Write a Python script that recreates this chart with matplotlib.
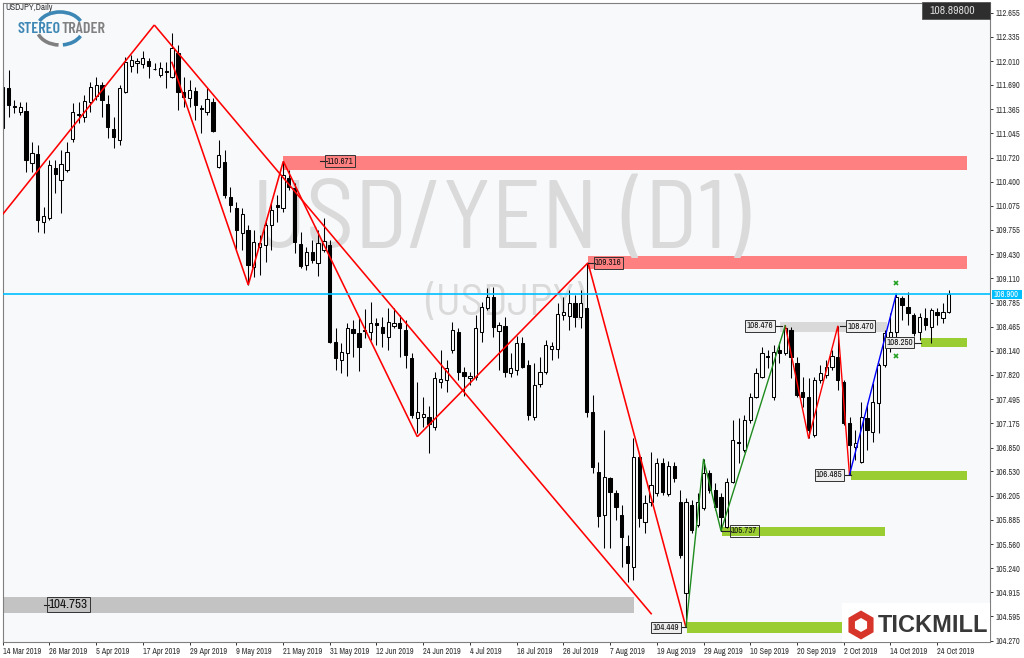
import matplotlib
matplotlib.use('Agg')
import matplotlib.pyplot as plt
from matplotlib import font_manager as fm
from matplotlib.patches import Rectangle, Arc, Polygon
from matplotlib.transforms import Affine2D
import numpy as np

W, H = 1024, 658
names = sorted({f.name for f in fm.fontManager.ttflist})
if 'Archivo Narrow' in names:
    UI, K = 'Archivo Narrow', 1.0
elif 'Liberation Sans' in names:
    UI, K = 'Liberation Sans', 0.82
else:
    UI, K = 'DejaVu Sans', 0.72
COND = 'Barlow Condensed' if 'Barlow Condensed' in names else UI
SEMI = 'Barlow Semi Condensed' if 'Barlow Semi Condensed' in names else UI
BOLD = 'Liberation Sans' if 'Liberation Sans' in names else 'DejaVu Sans'

# ---------------- data ----------------
date_labels = ['14 Mar 2019', '26 Mar 2019', '5 Apr 2019', '17 Apr 2019', '29 Apr 2019',
               '9 May 2019', '21 May 2019', '31 May 2019', '12 Jun 2019', '24 Jun 2019',
               '4 Jul 2019', '16 Jul 2019', '26 Jul 2019', '7 Aug 2019', '19 Aug 2019',
               '29 Aug 2019', '10 Sep 2019', '20 Sep 2019', '2 Oct 2019', '14 Oct 2019',
               '24 Oct 2019']
bars_per_label = 8

price_ticks = [112.655, 112.335, 112.010, 111.690, 111.365, 111.045, 110.720, 110.400,
               110.075, 109.755, 109.430, 109.110, 108.785, 108.465, 108.140, 107.820,
               107.495, 107.175, 106.850, 106.530, 106.205, 105.885, 105.560, 105.240,
               104.915, 104.595, 104.270]

ohlc = [
 (111.112, 111.824, 111.089, 111.667), (111.650, 111.890, 111.263, 111.423),
 (111.410, 111.490, 111.316, 111.396), (111.330, 111.463, 111.290, 111.396),
 (111.347, 111.467, 110.533, 110.689), (110.649, 110.933, 110.533, 110.782),
 (110.769, 110.889, 109.732, 109.888), (109.865, 110.065, 109.710, 109.941),
 (109.914, 110.689, 109.888, 110.622), (110.582, 110.689, 110.248, 110.502),
 (110.422, 110.822, 109.981, 110.635), (110.555, 110.933, 110.533, 110.800),
 (110.969, 111.450, 110.933, 111.334), (111.290, 111.467, 111.183, 111.303),
 (111.267, 111.557, 111.200, 111.477), (111.467, 111.734, 111.334, 111.667),
 (111.543, 111.801, 111.490, 111.690), (111.690, 111.734, 111.267, 111.490),
 (111.436, 111.557, 110.978, 111.125), (111.099, 111.267, 110.845, 110.992),
 (110.956, 111.690, 110.889, 111.646), (111.601, 112.068, 111.579, 112.001),
 (111.944, 112.091, 111.868, 112.024), (111.980, 112.047, 111.846, 112.011),
 (111.966, 112.144, 111.913, 112.054), (112.011, 112.047, 111.780, 111.948),
 (111.910, 111.980, 111.890, 111.897), (111.824, 112.001, 111.801, 111.921),
 (111.877, 112.001, 111.646, 111.864), (111.801, 112.380, 111.783, 112.180),
 (112.113, 112.224, 111.356, 111.601), (111.601, 111.801, 111.400, 111.534),
 (111.512, 111.757, 111.400, 111.623), (111.614, 111.667, 111.223, 111.423),
 (111.376, 111.423, 111.049, 111.363), (111.334, 111.646, 111.290, 111.499),
 (111.467, 111.512, 111.067, 111.080), (110.599, 110.956, 110.578, 110.755),
 (110.666, 110.822, 110.177, 110.222), (110.199, 110.328, 109.994, 110.088),
 (110.048, 110.128, 109.487, 109.754), (109.714, 110.048, 109.487, 109.968),
 (109.754, 109.821, 109.020, 109.287), (109.264, 109.754, 109.130, 109.598),
 (109.531, 109.687, 109.153, 109.581), (109.554, 109.865, 109.331, 109.821),
 (109.821, 110.115, 109.487, 110.021), (110.088, 110.222, 109.865, 110.057),
 (110.044, 110.671, 109.998, 110.489), (110.449, 110.555, 110.288, 110.332),
 (110.315, 110.382, 109.447, 109.598), (109.567, 109.731, 109.247, 109.273),
 (109.287, 109.531, 109.220, 109.464), (109.464, 109.621, 109.313, 109.354),
 (109.317, 109.754, 109.140, 109.581), (109.487, 109.914, 109.460, 109.611),
 (109.554, 109.621, 108.245, 108.263), (108.263, 108.446, 107.885, 108.041),
 (108.018, 108.245, 107.845, 108.129), (108.108, 108.513, 107.805, 108.450),
 (108.432, 108.552, 108.062, 108.383), (108.379, 108.579, 107.875, 108.192),
 (108.425, 108.699, 108.312, 108.412), (108.396, 108.797, 108.285, 108.512),
 (108.506, 108.579, 108.219, 108.492), (108.463, 108.596, 108.196, 108.379),
 (108.329, 108.713, 108.152, 108.530), (108.472, 108.713, 108.446, 108.516),
 (108.512, 108.619, 108.062, 108.446), (108.419, 108.552, 107.912, 108.085),
 (108.045, 108.112, 107.244, 107.284), (107.240, 107.729, 107.044, 107.328),
 (107.261, 107.528, 107.128, 107.297), (107.258, 107.404, 106.777, 107.164),
 (107.128, 107.858, 107.084, 107.778), (107.729, 108.152, 107.645, 107.765),
 (107.751, 108.018, 107.591, 107.912), (108.152, 108.530, 108.108, 108.419),
 (108.396, 108.446, 107.751, 107.862), (107.858, 107.929, 107.538, 107.811),
 (107.774, 107.858, 107.685, 107.809), (107.785, 108.619, 107.751, 108.452),
 (108.396, 108.797, 108.263, 108.730), (108.709, 108.976, 108.686, 108.864),
 (108.864, 108.997, 108.329, 108.455), (108.409, 108.530, 107.885, 108.486),
 (108.472, 108.596, 107.795, 107.862), (107.851, 108.112, 107.795, 107.908),
 (107.885, 108.339, 107.818, 108.239), (108.241, 108.322, 107.908, 107.929),
 (107.952, 108.018, 107.217, 107.284), (107.261, 107.978, 107.217, 107.685),
 (107.698, 108.062, 107.662, 107.862), (107.858, 108.285, 107.832, 108.219),
 (108.161, 108.263, 108.018, 108.201), (108.159, 108.779, 108.045, 108.626),
 (108.619, 108.864, 108.552, 108.663), (108.606, 108.953, 108.419, 108.775),
 (108.775, 108.886, 108.463, 108.596), (108.596, 108.953, 108.442, 108.775),
 (108.709, 109.316, 107.261, 107.328), (107.328, 107.551, 106.506, 106.594),
 (106.527, 106.661, 105.793, 105.936), (105.949, 107.084, 105.504, 106.460),
 (106.447, 106.460, 105.504, 106.260), (106.247, 106.283, 105.882, 106.060),
 (105.949, 106.083, 105.259, 105.659), (105.535, 105.682, 105.059, 105.304),
 (105.259, 106.973, 105.081, 106.727), (106.727, 106.777, 105.793, 105.905),
 (105.859, 106.216, 105.705, 106.105), (106.122, 106.790, 106.069, 106.350),
 (106.239, 106.710, 106.203, 106.639), (106.643, 106.710, 106.216, 106.260),
 (106.229, 106.670, 106.203, 106.603), (106.603, 106.657, 106.390, 106.439),
 (106.127, 106.283, 105.375, 105.415), (104.908, 106.176, 104.449, 106.122),
 (106.083, 106.149, 105.709, 105.749), (105.816, 106.243, 105.789, 106.127),
 (106.038, 106.693, 106.016, 106.506), (106.506, 106.550, 106.243, 106.283),
 (106.283, 106.376, 106.016, 106.060), (106.194, 106.243, 105.737, 105.926),
 (105.793, 106.443, 105.775, 106.394), (106.394, 107.217, 106.376, 106.950),
 (106.924, 107.244, 106.643, 106.904), (106.817, 107.284, 106.794, 107.217),
 (107.217, 107.578, 107.177, 107.528), (107.528, 107.912, 107.511, 107.845),
 (107.795, 108.196, 107.778, 108.112), (108.072, 108.152, 107.912, 108.058),
 (107.528, 108.219, 107.484, 108.129), (108.152, 108.263, 107.978, 108.108),
 (108.108, 108.476, 108.085, 108.442), (108.419, 108.463, 107.774, 108.062),
 (107.974, 108.062, 107.528, 107.551), (107.595, 107.795, 107.395, 107.528),
 (107.528, 107.774, 106.973, 107.084), (107.017, 107.795, 106.994, 107.751),
 (107.751, 107.952, 107.711, 107.841), (107.818, 108.018, 107.778, 107.929),
 (107.929, 108.152, 107.885, 108.072), (108.062, 108.470, 107.618, 107.751),
 (107.729, 107.751, 107.151, 107.173), (107.173, 107.261, 106.485, 106.884),
 (106.861, 107.084, 106.683, 106.910), (106.661, 107.462, 106.639, 107.261),
 (107.244, 107.444, 106.817, 107.084), (107.061, 107.711, 106.928, 107.462),
 (107.444, 107.978, 107.044, 107.952), (107.952, 108.419, 107.925, 108.375),
 (108.329, 108.642, 108.125, 108.396), (108.396, 108.900, 108.219, 108.863),
 (108.846, 108.873, 108.552, 108.753), (108.730, 108.930, 108.486, 108.642),
 (108.619, 108.646, 108.339, 108.375), (108.396, 108.646, 108.285, 108.596),
 (108.579, 108.713, 108.419, 108.486), (108.463, 108.713, 108.250, 108.686),
 (108.663, 108.713, 108.486, 108.619), (108.575, 108.779, 108.512, 108.663),
 (108.663, 108.953, 108.642, 108.898),
]
opens = [r[0] for r in ohlc]
highs = [r[1] for r in ohlc]
lows = [r[2] for r in ohlc]
closes = [r[3] for r in ohlc]

current_price = 108.898
hline_price = 108.900

# zones: bar start, bar end, bottom price, top price, colour
zone_start = [48.0, 100.2, 133.1, 117.1, 123.2, 145.2, 157.2, -0.1]
zone_end = [165.2, 165.2, 151.4, 143.9, 151.1, 165.1, 165.1, 108.1]
zone_bottom = [110.555, 109.229, 108.396, 104.369, 105.672, 106.416, 108.192, 104.645]
zone_top = [110.746, 109.411, 108.522, 104.524, 105.793, 106.540, 108.312, 104.858]
zone_color = ['#FF8080', '#FF8080', '#D9D9D9', '#9ACD32', '#9ACD32', '#9ACD32', '#9ACD32', '#C3C3C3']

# price labels
label_level = [110.671, 109.316, 108.476, 108.470, 106.485, 105.737, 104.449, 108.250, 104.753]
label_anchor = [55.5, 101.4, 131.95, 144.6, 143.8, 124.7, 115.85, 155.9, 7.9]
label_from = [54.3, 100.2, 133.4, 143.3, 145.2, 123.0, 117.0, 157.2, 7.0]
label_side = ['left', 'left', 'right', 'left', 'right', 'left', 'right', 'right', 'left']
label_fc = ['none', 'none', '#EDEDED', '#EDEDED', '#EDEDED', 'none', '#EDEDED', '#EDEDED', 'none']
label_big = [False] * 8 + [True]

# manual trend lines: ((bar, price), (bar, price))
trend_lines = [
    ((0.0, 109.963), (25.96, 112.491)),
    ((28.94, 112.001), (42.05, 109.020)),
    ((42.05, 109.020), (48.05, 110.671)),
    ((25.96, 112.491), (111.13, 104.623)),
    ((48.05, 110.671), (70.99, 106.994)),
    ((70.99, 106.994), (100.22, 109.316)),
    ((100.22, 109.316), (117.0, 104.449)),
]
zz_red_x = [134, 138, 143, 145]
zz_red_y = [108.476, 106.973, 108.470, 106.485]
zz_blue_x = [145, 153]
zz_blue_y = [106.485, 108.900]
zz_green_x = [117, 120, 123, 134]
zz_green_y = [104.449, 106.693, 105.737, 108.476]
mark_x = [153, 153]
mark_y = [109.042, 108.072]

# ---------------- figure ----------------
fig = plt.figure(figsize=(W / 100, H / 100), dpi=100, facecolor='white')
PX = Affine2D().scale(1 / W, -1 / H).translate(0, 1) + fig.transFigure

L_px, R_px, T_px, B_px = 2.5, 990.0, 3.0, 642.0
ax = fig.add_axes([L_px / W, 1 - B_px / H, (R_px - L_px) / W, (B_px - T_px) / H])
ax.set_facecolor('#F8F9FB')
bar_px = 5.84
x0_px = 2.7
ax.set_xlim((L_px - x0_px) / bar_px, (R_px - x0_px) / bar_px)
ax.set_ylim(104.2533, 112.7845)

# zones
for xs, xe, yb, yt, col in zip(zone_start, zone_end, zone_bottom, zone_top, zone_color):
    ax.add_patch(Rectangle((xs, yb), xe - xs, yt - yb, fc=col, ec='none', zorder=1))

# watermark
wm = '#DADADA'
ax.text(252, 248, 'USD/YEN', transform=PX, ha='left', va='baseline', fontsize=70,
        family=SEMI, fontweight='normal', color=wm, zorder=1.5)
ax.text(621, 248, '(D1)', transform=PX, ha='left', va='baseline', fontsize=70,
        family=SEMI, fontweight='normal', color=wm, zorder=1.5)
ax.text(425, 315, '(USDJPY)', transform=PX, ha='left', va='baseline', fontsize=32,
        family=SEMI, fontweight='normal', color=wm, zorder=1.5)

# candles
idx = np.arange(len(opens))
o = np.array(opens); h = np.array(highs); l = np.array(lows); c = np.array(closes)
up = c >= o
ax.vlines(idx, l, h, color='black', lw=0.75, zorder=2)
bot = np.minimum(o, c)
hgt = np.maximum(np.abs(c - o), 0.012)
ax.bar(idx[up], hgt[up], bottom=bot[up], width=0.56, facecolor='white',
       edgecolor='black', linewidth=0.75, zorder=2.1)
ax.bar(idx[~up], hgt[~up], bottom=bot[~up], width=0.56, facecolor='black',
       edgecolor='black', linewidth=0.75, zorder=2.1)

# trend lines
for (xa, ya), (xb, yb) in trend_lines:
    ax.plot([xa, xb], [ya, yb], color='#FF0000', lw=1.15, zorder=3, solid_capstyle='butt')
ax.plot(zz_red_x, zz_red_y, color='#FF0000', lw=1.0, zorder=3)
ax.plot(zz_blue_x, zz_blue_y, color='#0000FF', lw=1.0, zorder=3)
ax.plot(zz_green_x, zz_green_y, color='#1E8C1E', lw=1.0, zorder=3)
ax.axhline(hline_price, color='#00BFFF', lw=1.2, zorder=3.5)
ax.plot(mark_x, mark_y, 'x', color='#22A022', ms=3.5, mew=1.2, zorder=4)

# price labels
for lv, xa, xf, side, fc, big in zip(label_level, label_anchor, label_from, label_side, label_fc, label_big):
    ax.plot([xf, xa], [lv, lv], color='#222222', lw=0.8, zorder=4.5)
    ax.text(xa, lv, f'{lv:.3f}', ha=side, va='center', fontsize=(9.5 if big else 6.4) * K,
            family=UI, color='#111111', zorder=5,
            bbox=dict(boxstyle='square,pad=0.15', fc=fc, ec='#333333', lw=0.7))

# axes styling
for s in ax.spines.values():
    s.set_color('#7F7F7F'); s.set_linewidth(0.8)
ax.yaxis.tick_right()
ax.set_yticks(price_ticks)
ax.set_yticklabels([f'{v:.3f}' for v in price_ticks])
ax.set_xticks(np.arange(len(date_labels)) * bars_per_label)
ax.set_xticklabels(date_labels, ha='left')
ax.tick_params(axis='y', which='both', direction='out', length=2.2, width=0.7, pad=1.8,
               colors='#333333', labelsize=6.0 * K)
ax.tick_params(axis='x', which='both', direction='out', length=2.5, width=0.7, pad=1.0,
               colors='#333333', labelsize=6.0 * K)
for t in ax.get_xticklabels() + ax.get_yticklabels():
    t.set_family(UI)

# ---- decorations in pixel space ----
fig.text(5, 8, 'USDJPY,Daily', transform=PX, ha='left', va='center', fontsize=6.4 * K,
         family=UI, color='#333333')
fig.add_artist(Rectangle((921.7, 1.7), 68.3, 17.6, transform=PX, fc='#2E2E2E', ec='#555555', lw=0.6))
fig.text(952, 11, f'{current_price:.5f}', transform=PX, ha='center', va='center',
         fontsize=8.4 * K, family=UI, color='#DDDDDD')
fig.add_artist(Rectangle((991.5, 289.5), 30.5, 9.5, transform=PX, fc='#00BFFF', ec='none'))
fig.text(1006.5, 294.2, f'{hline_price:.3f}', transform=PX, ha='center', va='center',
         fontsize=6.0 * K, family=UI, color='white')

# StereoTrader logo
blue, grey = '#3D87B5', '#808080'
for t1, t2, col in [(200, 340, blue), (95, 165, grey), (20, 80, blue)]:
    fig.add_artist(Arc((60, 28.5), 46, 33, theta1=t1, theta2=t2, transform=PX,
                       color=col, lw=2.6))
fig.text(61, 29, 'STEREO', transform=PX, ha='right', va='center', fontsize=11.5,
         fontweight='semibold', family=COND, color=blue)
fig.text(61, 29, 'TRADER', transform=PX, ha='left', va='center', fontsize=11.5,
         fontweight='semibold', family=COND, color=grey)

# Tickmill logo
fig.add_artist(Rectangle((842, 603), 148, 38.5, transform=PX, fc='white', ec='none'))
ang = np.deg2rad(np.arange(6) * 60 + 90)
cx, cy = 861, 625
fig.add_artist(Polygon(np.c_[cx + 14.5 * np.cos(ang), cy + 14.5 * np.sin(ang)], closed=True,
                       transform=PX, fc='#D8352A', ec='none'))
fig.add_artist(Polygon(np.c_[cx + 7 * np.cos(ang), cy + 7 * np.sin(ang)], closed=True,
                       transform=PX, fc='white', ec='none'))
fig.text(878, 626, 'TICKMILL', transform=PX, ha='left', va='center',
         fontsize=(17 if BOLD == 'Liberation Sans' else 15), fontweight='bold',
         family=BOLD, color='#383838')

fig.savefig('out.png', dpi=100, facecolor='white')
